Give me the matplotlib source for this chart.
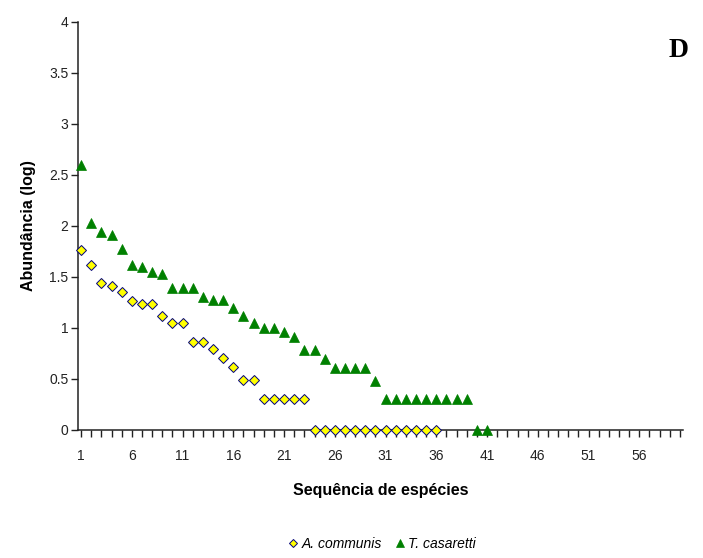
import matplotlib
matplotlib.use('Agg')
import matplotlib.pyplot as plt
import numpy as np

# log abundance per rank
communis = [1.76, 1.62, 1.44, 1.41, 1.35, 1.26, 1.24, 1.24, 1.12, 1.05,
            1.05, 0.86, 0.86, 0.79, 0.71, 0.62, 0.49, 0.49, 0.30, 0.30,
            0.30, 0.30, 0.30, 0, 0, 0, 0, 0, 0, 0, 0, 0, 0, 0, 0, 0]
casaretti = [2.60, 2.03, 1.94, 1.91, 1.77, 1.62, 1.60, 1.55, 1.53, 1.39,
             1.39, 1.39, 1.30, 1.27, 1.27, 1.20, 1.12, 1.05, 1.00, 1.00,
             0.96, 0.91, 0.78, 0.78, 0.70, 0.61, 0.61, 0.61, 0.61, 0.48,
             0.30, 0.30, 0.30, 0.30, 0.30, 0.30, 0.30, 0.30, 0.30, 0, 0]
series_names = ['A. communis', 'T. casaretti']
n_categories = 60

plt.rcParams['font.family'] = ['Liberation Sans', 'DejaVu Sans']

fig = plt.figure(figsize=(7.03, 5.58), dpi=100)
ax = fig.add_axes([0.111, 0.2294, 0.8605, 0.7312])

x1 = np.arange(1, len(communis) + 1)
x2 = np.arange(1, len(casaretti) + 1)
ax.plot(x1, communis, linestyle='none', marker='D', markersize=4.8,
        markerfacecolor='#ffff00', markeredgecolor='#000080', markeredgewidth=0.7,
        clip_on=False, zorder=4, label=series_names[0])
ax.plot(x2, casaretti, linestyle='none', marker='^', markersize=7,
        markerfacecolor='#008000', markeredgecolor='#008000', markeredgewidth=0.5,
        clip_on=False, zorder=3, label=series_names[1])

ax.set_xlim(0.7, 60.3)
ax.set_ylim(0, 4)
ax.set_yticks(np.arange(0, 4.01, 0.5))
ax.set_yticklabels(['0', '0.5', '1', '1.5', '2', '2.5', '3', '3.5', '4'])
ax.set_xticks(np.arange(1, n_categories + 1), minor=True)
ax.set_xticks(np.arange(1, n_categories + 1, 5))
ax.tick_params(axis='both', which='both', direction='out', length=5, width=1,
               labelsize=10, colors='#222222')
ax.tick_params(axis='x', which='major', pad=9)
ax.tick_params(axis='y', pad=2)

for s in ['top', 'right']:
    ax.spines[s].set_visible(False)
for s in ['left', 'bottom']:
    ax.spines[s].set_linewidth(1.1)
    ax.spines[s].set_color('#222222')

ax.set_xlabel('Sequência de espécies', fontsize=11.5, fontweight='bold', labelpad=14)
ax.set_ylabel('Abundância (log)', fontsize=11.5, fontweight='bold', labelpad=9)

fig.text(0.979, 0.91, 'D', fontsize=20, fontweight='bold', family='Liberation Serif',
         ha='right', va='center')

leg = fig.legend(loc='center', bbox_to_anchor=(0.542, 0.025), ncol=2, frameon=False,
                 prop={'style': 'italic', 'size': 10},
                 handletextpad=0.1, columnspacing=0.8, handlelength=1.0,
                 markerscale=0.8)

fig.savefig('out.png', dpi=100)
